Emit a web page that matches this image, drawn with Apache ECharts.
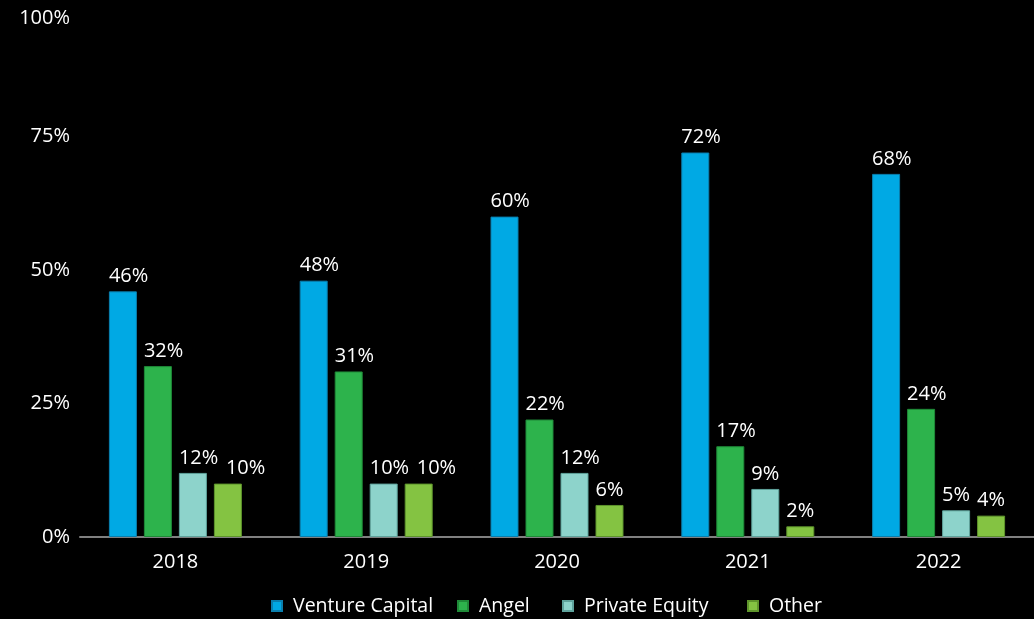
<!DOCTYPE html>
<html>
<head>
<meta charset="UTF-8">
<script src="https://cdn.jsdelivr.net/npm/echarts@6/dist/echarts.min.js"></script>
<style>
html,body{margin:0;padding:0;background:#000;}
#chart{width:1034px;height:619px;}
</style>
</head>
<body>
<div id="chart"></div>
<script>
var years = ['2018', '2019', '2020', '2021', '2022'];
var seriesNames = ['Venture Capital', 'Angel', 'Private Equity', 'Other'];
var ventureCapital = [46, 48, 60, 72, 68];
var angel = [32, 31, 22, 17, 24];
var privateEquity = [12, 10, 12, 9, 5];
var other = [10, 10, 6, 2, 4];
var yTicks = [0, 25, 50, 75, 100];

var font = '"Open Sans", "Noto Sans", sans-serif';
var legendLeft = [271, 457, 562, 747];

function bar(name, data, color, border) {
  return {
    name: name,
    type: 'bar',
    data: data,
    barWidth: 28,
    barGap: '25%',
    itemStyle: { color: color, borderColor: border, borderWidth: 1 },
    label: {
      show: true,
      position: [0, -5],
      align: 'left',
      verticalAlign: 'bottom',
      color: '#fff',
      fontSize: 20,
      fontFamily: font,
      formatter: '{c}%'
    }
  };
}

var series = [
  bar(seriesNames[0], ventureCapital, '#00A9E4', '#0a7fae'),
  bar(seriesNames[1], angel, '#2DB34C', '#1f8a38'),
  bar(seriesNames[2], privateEquity, '#8DD3CB', '#5fa39c'),
  bar(seriesNames[3], other, '#84C342', '#5f952c')
];
// push the "Other" label right when the wide Private Equity label sits at the same height
series[3].labelLayout = function (p) {
  var i = p.dataIndex;
  var wide = String(privateEquity[i]).length > 1;
  return wide && Math.abs(privateEquity[i] - other[i]) < 4 ? { dx: 12 } : {};
};

var legends = seriesNames.map(function (n, i) {
  return {
    data: [n],
    bottom: 3,
    left: legendLeft[i],
    padding: 0,
    icon: 'rect',
    itemWidth: 10,
    itemHeight: 10,
    textStyle: { color: '#fff', fontSize: 19.5, fontFamily: font, padding: [0, 0, 0, 6] }
  };
});

var chart = echarts.init(document.getElementById('chart'));
chart.setOption({
  backgroundColor: '#000',
  animation: false,
  grid: { left: 80, right: 0, top: 3, bottom: 82 },
  legend: legends,
  xAxis: {
    type: 'category',
    data: years,
    axisLine: { lineStyle: { color: '#808080', width: 2 } },
    axisTick: { show: false },
    axisLabel: { color: '#fff', fontSize: 20, fontFamily: font, margin: 15 }
  },
  yAxis: {
    type: 'value',
    min: yTicks[0],
    max: yTicks[yTicks.length - 1],
    interval: 25,
    splitLine: { show: false },
    axisLine: { show: false },
    axisTick: { show: false },
    axisLabel: {
      color: '#fff',
      fontSize: 20,
      fontFamily: font,
      margin: 10,
      formatter: function (v) {
        return v === 100 ? '{top|' + v + '%}' : v + '%';
      },
      rich: {
        top: { color: '#fff', fontSize: 20, fontFamily: font, padding: [30, 0, 0, 0] }
      }
    }
  },
  series: series
});
</script>
</body>
</html>
